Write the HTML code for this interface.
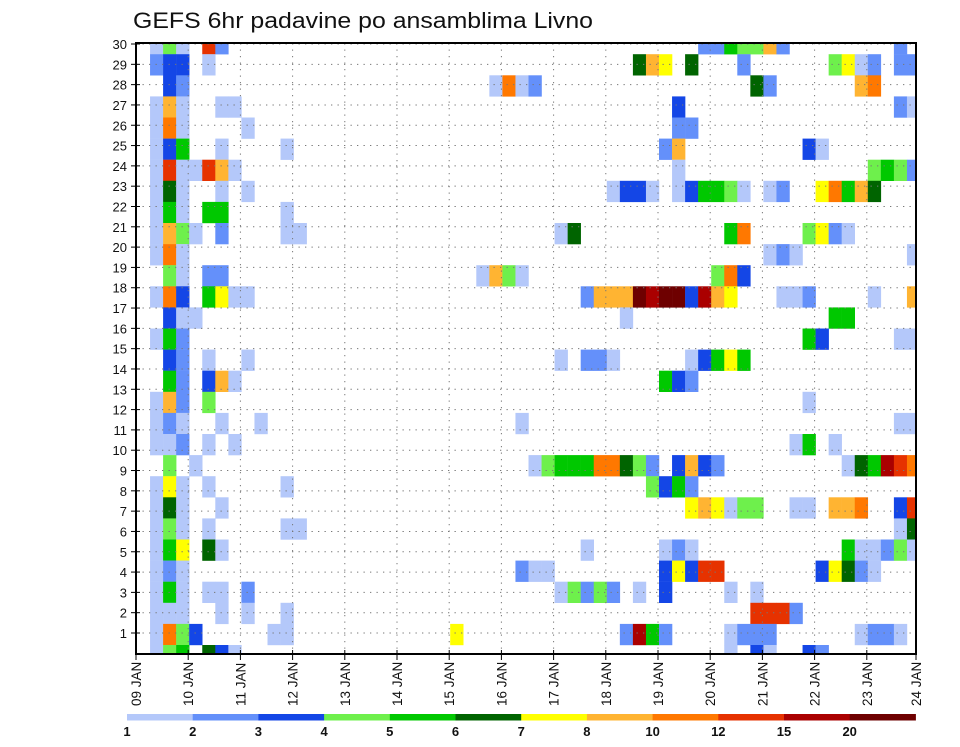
<!DOCTYPE html>
<html>
<head>
<meta charset="utf-8">
<style>
  html,body{margin:0;padding:0;background:#fff;}
  body{width:960px;height:742px;overflow:hidden;}
  svg text{font-family:"Liberation Sans",sans-serif;}
</style>
</head>
<body>
<svg id="chart" width="960" height="742" viewBox="0 0 960 742" xmlns="http://www.w3.org/2000/svg">
  <defs>
    <clipPath id="plotClip"><rect x="136" y="43" width="780" height="611"/></clipPath>
  </defs>
  <text x="133" y="28" font-size="22" textLength="460" lengthAdjust="spacingAndGlyphs" fill="#111">GEFS 6hr padavine po ansamblima Livno</text>
  <g id="cells" clip-path="url(#plotClip)"></g>
  <g id="grid"></g>
  <g id="axes"></g>
  <g id="legend"></g>
</svg>
<script>
// ---- chart data ----
const members = [30,29,28,27,26,25,24,23,22,21,20,19,18,17,16,15,14,13,12,11,10,9,8,7,6,5,4,3,2,1];
// sparse "timeStep:level" per member row (timeStep = 6h index from 09 JAN 00Z)
const cellCodes = [
 "1:1,2:4,3:1,5:10,6:2,43:2,44:2,45:5,46:4,47:4,48:8,49:2,58:2",
 "1:2,2:3,3:3,5:1,38:6,39:8,40:7,42:6,46:2,53:4,54:7,55:1,56:2,58:2,59:2",
 "2:3,3:2,27:1,28:9,29:1,30:2,47:6,48:2,55:8,56:9",
 "1:1,2:8,3:1,6:1,7:1,41:3,58:2,59:1",
 "1:1,2:9,3:1,8:1,41:2,42:2",
 "1:1,2:3,3:5,6:1,11:1,40:2,41:8,51:3,52:1",
 "1:1,2:10,3:1,4:1,5:10,6:8,7:1,41:1,56:4,57:5,58:4,59:2",
 "1:1,2:6,3:1,6:1,8:1,36:1,37:3,38:3,39:1,41:1,42:3,43:5,44:5,45:4,46:1,48:1,49:2,52:7,53:9,54:5,55:8,56:6",
 "1:1,2:5,3:1,5:5,6:5,11:1",
 "1:1,2:8,3:4,4:1,6:2,11:1,12:1,32:1,33:6,45:5,46:9,51:4,52:7,53:2,54:1",
 "1:1,2:9,3:1,48:1,49:2,50:1,59:1",
 "2:4,3:1,5:2,6:2,26:1,27:8,28:4,29:1,44:4,45:9,46:3",
 "1:1,2:9,3:3,5:5,6:7,7:1,8:1,34:2,35:8,36:8,37:8,38:12,39:11,40:12,41:12,42:3,43:11,44:8,45:7,49:1,50:1,51:2,56:1,59:8",
 "2:3,3:1,4:1,37:1,53:5,54:5",
 "1:1,2:5,3:2,51:5,52:3,58:1,59:1",
 "2:3,3:2,5:1,8:1,32:1,34:2,35:2,36:1,42:1,43:3,44:5,45:7,46:5",
 "2:5,3:2,5:3,6:8,7:1,40:5,41:3,42:2",
 "1:1,2:8,3:2,5:4,51:1",
 "1:1,2:2,3:1,6:1,9:1,29:1,58:1,59:1",
 "1:1,2:1,3:2,5:1,7:1,50:1,51:5,53:1",
 "2:4,4:1,30:1,31:4,32:5,33:5,34:5,35:9,36:9,37:6,38:4,39:2,41:3,42:8,43:3,44:2,54:1,55:6,56:5,57:11,58:10,59:9",
 "1:1,2:7,3:1,5:1,11:1,39:4,40:3,41:5,42:2",
 "1:1,2:6,3:1,6:1,42:7,43:8,44:7,45:1,46:4,47:4,50:1,51:1,53:8,54:8,55:9,58:3,59:10",
 "1:1,2:4,3:1,5:1,11:1,12:1,58:1,59:6",
 "1:1,2:5,3:7,5:6,6:1,34:1,40:1,41:2,42:1,54:5,55:1,56:1,57:2,58:4,59:1",
 "1:1,2:2,3:1,29:2,30:1,31:1,40:3,41:7,42:3,43:10,44:10,52:3,53:7,54:6,55:2,56:1",
 "1:1,2:5,3:1,5:1,6:1,8:2,32:1,33:4,34:2,35:4,36:2,38:1,40:3,45:1,47:1",
 "1:1,2:1,3:1,6:1,8:1,11:1,47:10,48:10,49:10,50:2",
 "1:1,2:9,3:4,4:3,10:1,11:1,24:7,37:2,38:11,39:5,40:2,45:1,46:2,47:2,48:2,55:1,56:2,57:2,58:1",
 "1:1,2:4,3:5,5:6,6:3,7:1,45:1,47:3,48:1,51:3,52:2"
];
const yTickValues = [1,2,3,4,5,6,7,8,9,10,11,12,13,14,15,16,17,18,19,20,21,22,23,24,25,26,27,28,29,30];
const dayLabels = ["09 JAN","10 JAN","11 JAN","12 JAN","13 JAN","14 JAN","15 JAN","16 JAN","17 JAN","18 JAN","19 JAN","20 JAN","21 JAN","22 JAN","23 JAN","24 JAN"];
const legendLabels = ["1","2","3","4","5","6","7","8","10","12","15","20"];
const levelColors = ["#b4c8fa","#6490fa","#1446e6","#6ef04c","#00c800","#006400","#ffff00","#ffb432","#ff7800","#e63200","#aa0000","#6e0000"];

// ---- scales ----
const NS = "http://www.w3.org/2000/svg";
const PL = 136, PR = 916, PT = 43, PB = 654;
function xStep(t){ return 137 + t * 13.05; }          // 6h step -> px
function xDay(i){ return Math.min(PR, 136 + i * 52.2); }
function yCellTop(m){ return 645 - (m - 1) * 21.1; }   // member row top
function yTick(v){ return 633 - (v - 1) * 20.31; }
function mk(tag, attrs, parent){ const e = document.createElementNS(NS, tag); for (const k in attrs) e.setAttribute(k, attrs[k]); parent.appendChild(e); return e; }

// ---- cells ----
const gc = document.getElementById('cells');
members.forEach((m, ri) => {
  cellCodes[ri].split(',').forEach(p => {
    const parts = p.split(':');
    const t = +parts[0], lv = +parts[1];
    const r = mk('rect', {x: xStep(t), y: yCellTop(m), width: 13.3, height: 21.3, fill: levelColors[lv - 1]}, gc);
    
    
  });
});

// ---- grid ----
const gg = document.getElementById('grid');
yTickValues.forEach(v => {
  const l = mk('line', {x1: PL, x2: PR, y1: yTick(v), y2: yTick(v), stroke: '#777', 'stroke-width': 1, 'stroke-dasharray': '1.3,5.2'}, gg);
  
  
});
dayLabels.forEach((d, i) => {
  if (i === 0 || i === dayLabels.length - 1) return;
  const l = mk('line', {x1: xDay(i), x2: xDay(i), y1: PT, y2: PB, stroke: '#777', 'stroke-width': 1, 'stroke-dasharray': '1.3,5.2'}, gg);
  
  
});

// ---- axes ----
const ga = document.getElementById('axes');
const frame = mk('rect', {x: PL, y: PT, width: PR - PL, height: PB - PT, fill: 'none', stroke: '#000', 'stroke-width': 2}, ga);


yTickValues.forEach(v => {
  const y = yTick(v);
  const tk = mk('line', {x1: 131, x2: 140, y1: y, y2: y, stroke: '#000', 'stroke-width': 1}, ga);
  
  
  const tx = mk('text', {x: 127, y: y + 5, 'text-anchor': 'end', 'font-size': 13, fill: '#111'}, ga);
  tx.textContent = v;
  
  
});
dayLabels.forEach((d, i) => {
  const x = xDay(i);
  const tk = mk('line', {x1: x, x2: x, y1: PB - 4, y2: PB + 6, stroke: '#000', 'stroke-width': 1}, ga);
  
  
  const tx = mk('text', {x: 0, y: 0, 'font-size': 13.5, fill: '#111', transform: 'translate(' + (x + 5) + ',706) rotate(-90)'}, ga);
  tx.textContent = d;
  
  
});

// ---- legend ----
const gl = document.getElementById('legend');
const segW = 65.7;
levelColors.forEach((c, i) => {
  const r = mk('rect', {x: 127 + i * segW, y: 714, width: segW + 0.5, height: 6.5, fill: c}, gl);
  
  
});
legendLabels.forEach((t, i) => {
  const tx = mk('text', {x: 127 + i * segW, y: 736, 'text-anchor': 'middle', 'font-size': 13, 'font-weight': 'bold', fill: '#111'}, gl);
  tx.textContent = t;
  
  
});
</script>
</body>
</html>
